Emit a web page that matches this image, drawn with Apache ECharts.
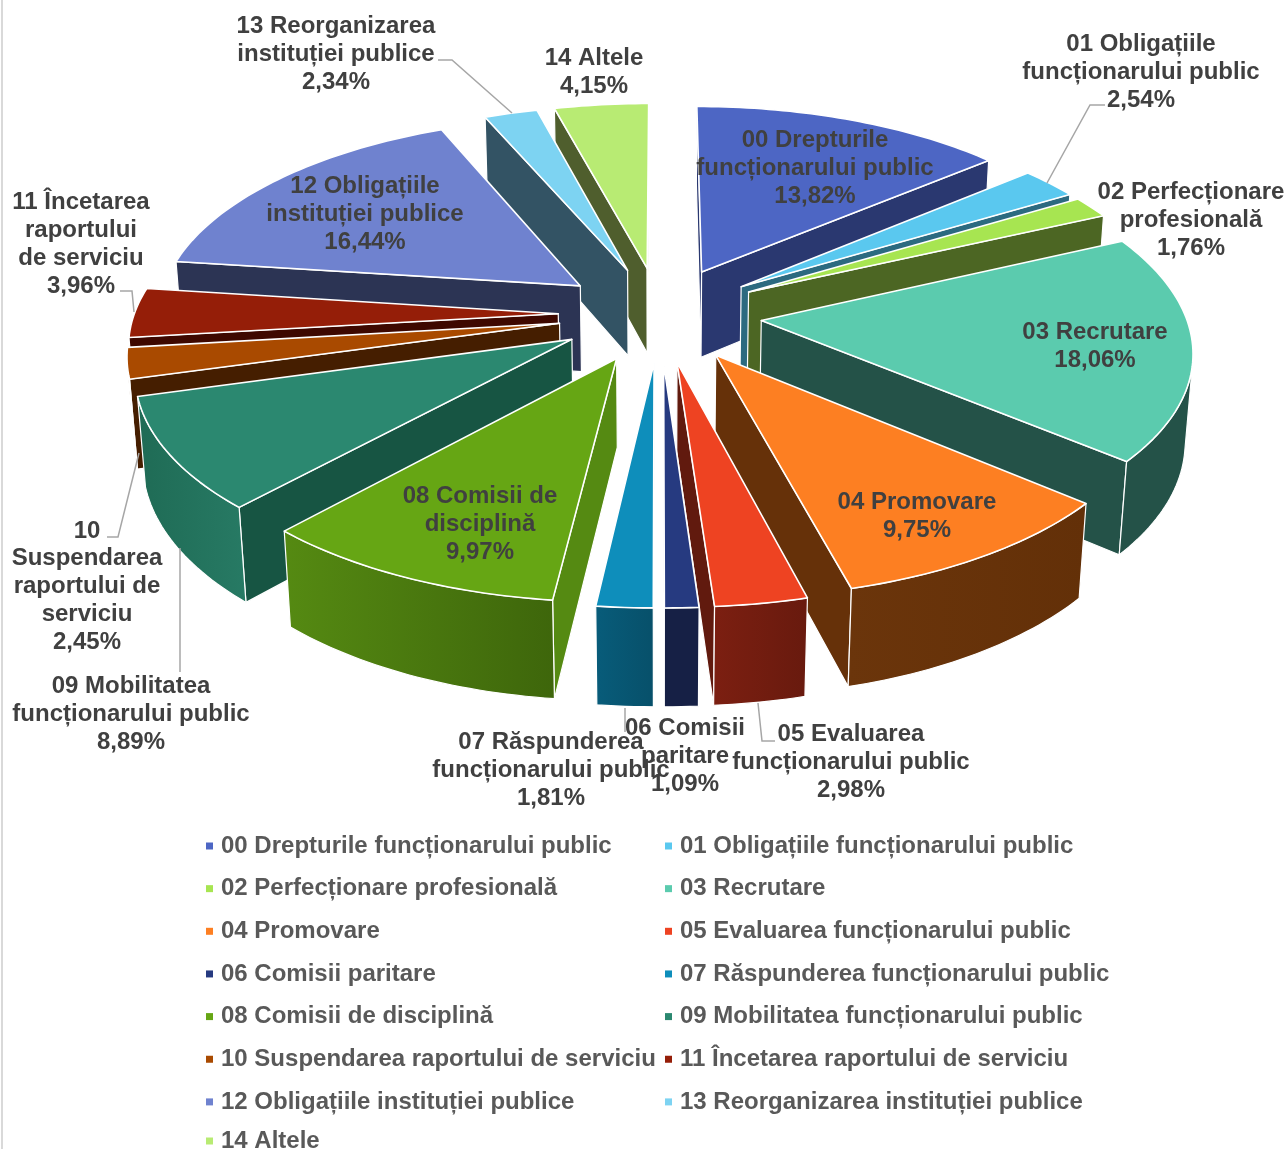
<!DOCTYPE html>
<html><head><meta charset="utf-8">
<style>html,body{margin:0;padding:0;background:#fff}#c{width:1288px;height:1149px}</style>
<script src="https://cdn.jsdelivr.net/npm/echarts@6/dist/echarts.min.js"></script>
</head><body><div id="c"></div>
<script>
const categories = ["00 Drepturile funcționarului public","01 Obligațiile funcționarului public","02 Perfecționare profesională","03 Recrutare","04 Promovare","05 Evaluarea funcționarului public","06 Comisii paritare","07 Răspunderea funcționarului public","08 Comisii de disciplină","09 Mobilitatea funcționarului public","10 Suspendarea raportului de serviciu","11 Încetarea raportului de serviciu","12 Obligațiile instituției publice","13 Reorganizarea instituției publice","14 Altele"];
const values = [13.82,2.54,1.76,18.06,9.75,2.98,1.09,1.81,9.97,8.89,2.45,3.96,16.44,2.34,4.15];
const labelLines = ["00 Drepturile\nfuncționarului public","01 Obligațiile\nfuncționarului public","02 Perfecționare\nprofesională","03 Recrutare","04 Promovare","05 Evaluarea\nfuncționarului public","06 Comisii\nparitare","07 Răspunderea\nfuncționarului public","08 Comisii de\ndisciplină","09 Mobilitatea\nfuncționarului public","10\nSuspendarea\nraportului de\nserviciu","11 Încetarea\nraportului\nde serviciu","12 Obligațiile\ninstituției publice","13 Reorganizarea\ninstituției publice","14 Altele"];

// styling
const topColors  = ["#4D66C4","#5AC8EF","#A7E551","#5BCBAE","#FD7F22","#EE4322","#263A80","#0E8EBB","#66A614","#2B8870","#A94A00","#951E08","#6F82CF","#7DD3F2","#B8EB73"];
const sideColors = ["#2A3870","#2C6A80","#4C6623","#245248","#663109","#611A0E","#162045","#07536D","#558A12","#175543","#451E00","#3E0800","#2C3454","#335364","#4F5E2D"];
const rimFrom    = ["#2A3870","#2C6A80","#4C6623","#245248","#6B350B","#7C1F11","#162045","#085C7A","#558A12","#1F6B55","#5A2800","#3E0800","#2C3454","#335364","#4F5E2D"];
const rimTo      = ["#2A3870","#2C6A80","#4C6623","#245248","#633008","#681A0E","#162045","#07506A","#3E660B","#277A64","#451E00","#3E0800","#2C3454","#335364","#4F5E2D"];
// back-to-front painting order
const paintOrder = [14,13,0,12,1,2,11,10,3,9,4,8,5,7,6];

// layout of the free-standing Excel-style labels
const labelAnchors = [[815,168.5],[1141,72.5],[1191,220.5],[1095,346],[917,516],[851,762.5],[685,756.5],[551,770.5],[480,524.5],[131,714.5],[87,586.5],[81,244.5],[365,214.5],[336,54.5],[594,72]];
const leaderPaths = [[[1105,105],[1090,105],[1047,183]],[[438,60],[452,60],[512,113]],[[120,291],[132,291],[134,312]],[[107,537],[118,537],[139,453]],[[180,548],[180,672]],[[625,708],[625,732]],[[758,703],[762,741],[775,741]]];

// projection of the tilted, exploded disc
const G = {cx:660, cy:314, A:424, B:198, C:88.3, k:0.133, m:0.0146, e:0.24};
const total = values.reduce((a,b)=>a+b,0);
function project(u,v,z){const w=1-G.k*v+G.m*z;return [G.cx+G.A*u/w, G.cy+(G.B*v+G.C*z)/w];}
function area(q){let s=0;for(let i=0;i<q.length;i++){const a=q[i],b=q[(i+1)%q.length];s+=a[0]*b[1]-b[0]*a[1];}return s/2;}

function renderSlice(params,api){
  const i=api.value(0), val=api.value(1);
  const start=values.slice(0,i).reduce((a,b)=>a+b,0)/total*2*Math.PI;
  const sweep=val/total*2*Math.PI, mid=start+sweep/2;
  const ox=G.e*Math.sin(mid), oy=-G.e*Math.cos(mid);
  const n=Math.max(4,Math.ceil(sweep/0.02));
  const topP=[],botP=[];
  for(let j=0;j<=n;j++){const a=start+sweep*j/n;const u=Math.sin(a)+ox,v=-Math.cos(a)+oy;topP.push(project(u,v,0));botP.push(project(u,v,1));}
  const at=project(ox,oy,0),ab=project(ox,oy,1);
  const kids=[];
  const wall=(pts,fill)=>kids.push({type:'polygon',shape:{points:pts},style:{fill:fill,stroke:'#fff',lineWidth:1.2,lineJoin:'round'}});
  const side=sideColors[i];
  if(area([at,topP[0],botP[0],ab])<0) wall([at,topP[0],botP[0],ab],side);
  if(area([topP[n],at,ab,botP[n]])<0) wall([topP[n],at,ab,botP[n]],side);
  let run=null;
  const flush=()=>{if(run){const t=[],b=[];for(let j=run[0];j<=run[1];j++){t.push(topP[j]);b.unshift(botP[j]);}
    wall(t.concat(b),{type:'linear',x:0,y:0,x2:1,y2:0,colorStops:[{offset:0,color:rimFrom[i]},{offset:1,color:rimTo[i]}]});run=null;}};
  for(let j=0;j<n;j++){
    if(area([topP[j],topP[j+1],botP[j+1],botP[j]])<0){ if(run) run[1]=j+1; else run=[j,j+1]; } else flush();
  }
  flush();
  kids.push({type:'polygon',shape:{points:[at].concat(topP)},style:{fill:topColors[i],stroke:'#fff',lineWidth:1.6,lineJoin:'round'}});
  return {type:'group',children:kids};
}

function renderLabels(params,api){
  const i=api.value(0);
  const pct=api.value(1).toFixed(2).replace('.',',')+'%';
  return {type:'text',x:labelAnchors[i][0],y:labelAnchors[i][1],style:{text:labelLines[i]+'\n'+pct,textAlign:'center',textVerticalAlign:'middle',font:'bold 24px "Liberation Sans"',lineHeight:27.8,fill:'#404040'}};
}
function renderLeaders(params,api){
  const p=leaderPaths[api.value(0)];
  return {type:'polyline',shape:{points:p},style:{fill:'none',stroke:'#A6A6A6',lineWidth:1.5}};
}

const series = paintOrder.map(i=>({name:categories[i],type:'custom',coordinateSystem:'none',renderItem:renderSlice,itemStyle:{color:topColors[i]},data:[[i,values[i]]],animation:false,silent:true,z:2}));
series.push({name:'leaders',type:'custom',coordinateSystem:'none',renderItem:renderLeaders,data:leaderPaths.map((p,i)=>[i]),animation:false,silent:true,z:3});
series.push({name:'labels',type:'custom',coordinateSystem:'none',renderItem:renderLabels,data:values.map((v,i)=>[i,v]),animation:false,silent:true,z:4});

const legendBase={orient:'vertical',icon:'rect',itemWidth:7,itemHeight:7,padding:0,itemGap:14.65,selectedMode:false,
  textStyle:{fontFamily:'Liberation Sans',fontSize:24,fontWeight:'bold',color:'#595959',lineHeight:28,padding:[0,0,0,3]}};
const chart=echarts.init(document.getElementById('c'),null,{renderer:'canvas'});
chart.setOption({
  backgroundColor:'#fff',animation:false,tooltip:{show:false},
  graphic:[{type:'line',shape:{x1:2,y1:0,x2:2,y2:1149},style:{stroke:'#D9D9D9',lineWidth:2},silent:true}],
  legend:[
    Object.assign({},legendBase,{left:206,top:832,data:categories.filter((c,i)=>i%2===0&&i<14)}),
    Object.assign({},legendBase,{left:665,top:832,data:categories.filter((c,i)=>i%2===1)}),
    Object.assign({},legendBase,{left:206,top:1127,data:[categories[14]]})
  ],
  series:series
});
</script></body></html>
